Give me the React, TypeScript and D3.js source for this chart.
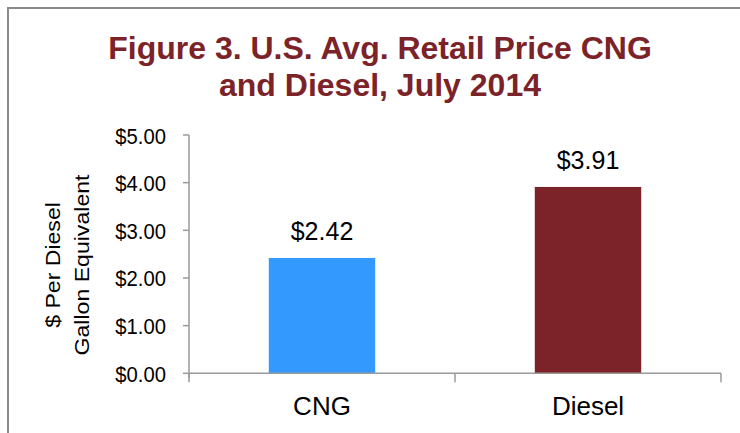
import React from "react";
import * as d3 from "d3";

const categories = ["CNG", "Diesel"];
const prices = [2.42, 3.91];
const priceLabels = ["$2.42", "$3.91"];
const barColors = ["#3399FF", "#7B2329"];
const yTicks = [0, 1, 2, 3, 4, 5];
const titleLines = ["Figure 3. U.S. Avg. Retail Price CNG", "and Diesel, July 2014"];
const yTitleLines = ["$  Per Diesel", "Gallon Equivalent"];

const W = 740;
const H = 433;
const FONT = "'Liberation Sans', Arial, Helvetica, sans-serif";
const AXIS = "#9a9a9a";

export default function App() {
  const x = d3
    .scaleBand<string>()
    .domain(categories)
    .range([189, 721])
    .paddingInner(0.6)
    .paddingOuter(0.3);
  const y = d3.scaleLinear().domain([0, 5]).range([373.3, 135]);
  const fmt = (v: number) => "$" + d3.format(".2f")(v);
  const step = x.step();
  const bounds = [189, ...categories.map((c) => (x(c) as number) - (step * 0.6) / 2 + step)];

  return (
    <svg
      width={W}
      height={H}
      style={{ position: "absolute", left: 0, top: 0, background: "#fff" }}
      fontFamily={FONT}
    >
      {/* chart border (cropped on right/bottom) */}
      <path d={`M8,${H + 5} V8 H${W + 5}`} fill="none" stroke="#8a8a8a" strokeWidth={2} />

      {/* title */}
      {titleLines.map((t, i) => (
        <text
          key={t}
          x={380}
          y={59 + i * 37}
          textAnchor="middle"
          fontSize={32}
          fontWeight="bold"
          fill="#7B2329"
        >
          {t}
        </text>
      ))}

      {/* y axis title */}
      {yTitleLines.map((t, i) => (
        <text
          key={t}
          transform={`translate(${60 + i * 29},265) rotate(-90) scale(1.1,1)`}
          textAnchor="middle"
          fontSize={21}
          fill="#000"
        >
          {t}
        </text>
      ))}

      {/* bars */}
      {categories.map((c, i) => (
        <rect
          key={c}
          x={x(c)}
          y={y(prices[i])}
          width={x.bandwidth()}
          height={y(0) - y(prices[i])}
          fill={barColors[i]}
        />
      ))}

      {/* y axis */}
      <line x1={189} x2={189} y1={135} y2={378} stroke={AXIS} strokeWidth={1.5} />
      {yTicks.map((t) => (
        <g key={t}>
          <line x1={183} x2={189} y1={y(t)} y2={y(t)} stroke={AXIS} strokeWidth={1.5} />
          <text
            transform={`translate(166,${y(t) + 8.5}) scale(0.92,1)`}
            textAnchor="end"
            fontSize={22}
            fill="#000"
          >
            {fmt(t)}
          </text>
        </g>
      ))}

      {/* x axis */}
      <line x1={189} x2={721} y1={y(0)} y2={y(0)} stroke={AXIS} strokeWidth={1.5} />
      {bounds.map((b, i) => (
        <line key={i} x1={b} x2={b} y1={y(0)} y2={y(0) + 9} stroke={AXIS} strokeWidth={1.5} />
      ))}
      {categories.map((c) => (
        <text
          key={c}
          x={(x(c) as number) + x.bandwidth() / 2}
          y={415}
          textAnchor="middle"
          fontSize={26}
          fill="#000"
        >
          {c}
        </text>
      ))}

      {/* value labels */}
      {categories.map((c, i) => (
        <text
          key={c}
          x={(x(c) as number) + x.bandwidth() / 2}
          y={y(prices[i]) - 17.5}
          textAnchor="middle"
          fontSize={25}
          fill="#000"
        >
          {priceLabels[i]}
        </text>
      ))}
    </svg>
  );
}
